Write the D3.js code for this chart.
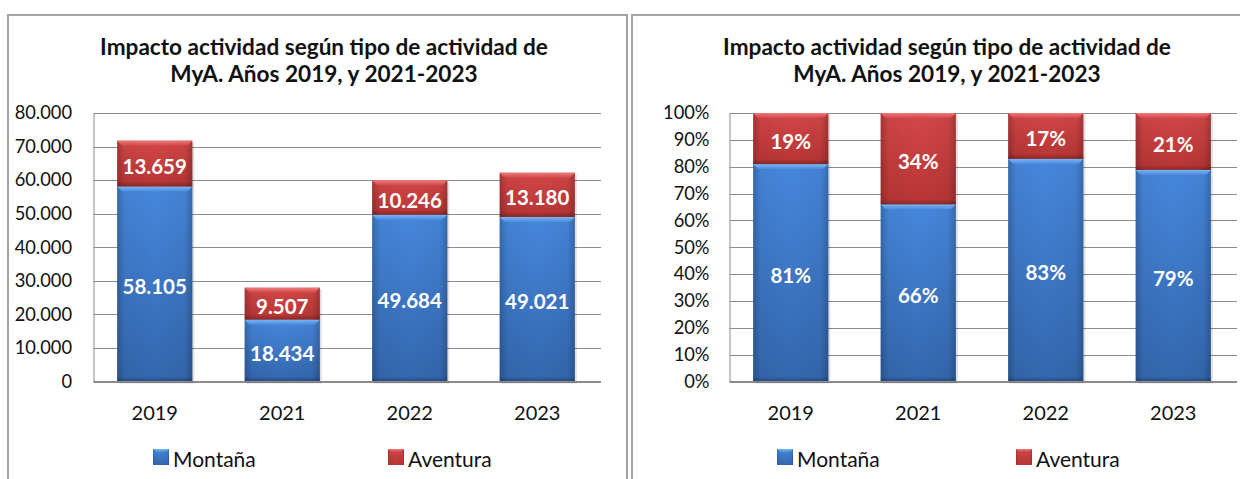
<!DOCTYPE html>
<html><head><meta charset="utf-8">
<script src="https://cdn.jsdelivr.net/npm/d3@7"></script>
<style>body{margin:0;background:#fff}svg{display:block}text{font-family:Lato,"Open Sans",sans-serif}</style>
</head><body>
<svg id="c" width="1240" height="479"></svg>
<script>
const years = ["2019","2021","2022","2023"];
const montana = [58105, 18434, 49684, 49021];
const aventura = [13659, 9507, 10246, 13180];
const seriesNames = ["Montaña","Aventura"];
const titleLines = ["Impacto actividad según tipo de actividad de","MyA. Años 2019, y 2021-2023"];
const absTicks = [0,10000,20000,30000,40000,50000,60000,70000,80000];
const pctTicks = [0,0.1,0.2,0.3,0.4,0.5,0.6,0.7,0.8,0.9,1];

const svg = d3.select("#c");
const loc = d3.formatLocale({decimal:",",thousands:".",grouping:[3],currency:["",""]});
const fmtAbs = loc.format(",.0f");
const fmtPct = d3.format(".0%");

const defs = svg.append("defs");
function grad(id, stops, x2, y2){
  const g = defs.append("linearGradient").attr("id",id).attr("x1",0).attr("y1",0).attr("x2",x2).attr("y2",y2);
  stops.forEach(s=>g.append("stop").attr("offset",s[0]).attr("stop-color",s[1]).attr("stop-opacity",s[2]===undefined?1:s[2]));
}
grad("gBlue",[[0,"#4687dc"],[1,"#3467ae"]],0,1);
grad("gRed",[[0,"#d44747"],[1,"#b73535"]],0,1);
grad("gBlueTop",[[0,"#7ab6f2"],[1,"#4a8ade"]],0,1);
grad("gRedTop",[[0,"#ee7a7a"],[1,"#d04848"]],0,1);
grad("gEdge",[[0,"#000",0.22],[0.1,"#000",0.04],[0.5,"#000",0],[0.9,"#000",0.04],[1,"#000",0.22]],1,0);
grad("gBottom",[[0,"#000",0],[1,"#000",0.25]],0,1);

const colors = {Montaña:{fill:"url(#gBlue)",top:"url(#gBlueTop)"}, Aventura:{fill:"url(#gRed)",top:"url(#gRedTop)"}};

function drawChart(cfg){
  const g = svg.append("g");
  g.append("rect").attr("x",cfg.frame[0]).attr("y",cfg.frame[1]).attr("width",cfg.frame[2]).attr("height",cfg.frame[3])
    .attr("fill","none").attr("stroke","#a3a3a3").attr("stroke-width",2);
  const t = g.append("text").attr("text-anchor","middle").attr("font-weight","bold").attr("font-size",22.6).attr("fill","#111");
  titleLines.forEach((l,i)=>t.append("tspan").attr("x",cfg.titleX).attr("y",55+i*27).text(l));

  const x = d3.scaleBand().domain(years).range([cfg.bandLeft,cfg.right]).paddingInner(0.41).paddingOuter(0.205);
  const y = d3.scaleLinear().domain(cfg.domain).range([381.5,113]);

  g.append("g").selectAll("line").data(cfg.ticks).join("line")
    .attr("x1",cfg.left).attr("x2",cfg.right).attr("y1",d=>Math.round(y(d))+0.5).attr("y2",d=>Math.round(y(d))+0.5)
    .attr("stroke","#8c8c8c").attr("stroke-width",1);
  const ya = g.append("g").attr("transform",`translate(${cfg.left},0)`)
    .call(d3.axisLeft(y).tickValues(cfg.ticks).tickFormat(cfg.fmt).tickSize(0).tickPadding(cfg.tickPad));
  ya.select(".domain").attr("stroke","#8c8c8c");
  ya.selectAll("text").attr("font-size",18.3).attr("fill","#111").attr("font-family","Lato");

  const rows = years.map((yr,i)=>{
    const tot = montana[i]+aventura[i];
    const v = cfg.pct ? [montana[i]/tot, aventura[i]/tot] : [montana[i], aventura[i]];
    return {yr, v};
  });
  const bars = g.append("g");
  rows.forEach(r=>{
    let base = 0;
    const bx = x(r.yr), bw = x.bandwidth();
    const total = r.v[0]+r.v[1];
    bars.append("rect").attr("x",bx+2).attr("y",y(total)+2).attr("width",bw).attr("height",y(0)-y(total)).attr("fill","#000").attr("opacity",0.12);
    r.v.forEach((val,k)=>{
      const name = seriesNames[k];
      const y0 = y(base), y1 = y(base+val);
      const h = y0-y1;
      const seg = bars.append("g");
      seg.append("rect").attr("x",bx).attr("y",y1).attr("width",bw).attr("height",h).attr("fill",colors[name].fill);
      seg.append("rect").attr("x",bx).attr("y",y1).attr("width",bw).attr("height",h).attr("fill","url(#gEdge)");
      seg.append("rect").attr("x",bx).attr("y",y0-5).attr("width",bw).attr("height",5).attr("fill","url(#gBottom)");
      seg.append("polygon").attr("points",[[bx,y1],[bx+bw,y1],[bx+bw-5,y1+5],[bx+5,y1+5]].map(p=>p.join(",")).join(" ")).attr("fill",colors[name].top);
      seg.append("text").attr("x",bx+bw/2).attr("y",(y0+y1)/2+3).attr("dy","0.35em").attr("text-anchor","middle")
        .attr("fill","#fff").attr("font-weight","bold").attr("font-size",20.5)
        .text(cfg.pct ? fmtPct(Math.round(val*100)/100) : fmtAbs(val));
      base += val;
    });
  });

  const xa = g.append("g").attr("transform","translate(0,381.5)")
    .call(d3.axisBottom(x).tickSize(0).tickPadding(24));
  xa.select(".domain").attr("stroke","#8c8c8c").attr("d",`M${cfg.left},0H${cfg.right}`);
  xa.selectAll("text").attr("font-size",20).attr("fill","#111").attr("font-family","Lato");

  const lg = g.append("g");
  seriesNames.forEach((n,k)=>{
    const lx = cfg.legendX[k];
    lg.append("rect").attr("x",lx).attr("y",449).attr("width",16).attr("height",16).attr("fill",colors[n].fill);
    lg.append("rect").attr("x",lx).attr("y",449).attr("width",16).attr("height",16).attr("fill","url(#gEdge)");
    lg.append("polygon").attr("points",[[lx,449],[lx+16,449],[lx+13,452],[lx+3,452]].map(p=>p.join(",")).join(" ")).attr("fill",colors[n].top);
    lg.append("text").attr("x",lx+20).attr("y",466.5).attr("font-size",21).attr("fill","#111").text(n);
  });
}

drawChart({frame:[8,15,619,480], titleX:324, left:93.5, bandLeft:91, right:601, domain:[0,80000], ticks:absTicks, fmt:fmtAbs, tickPad:21.5, pct:false, legendX:[153,388]});
drawChart({frame:[632,15,620,480], titleX:947, left:729.5, bandLeft:727, right:1237, domain:[0,1], ticks:pctTicks, fmt:d3.format(".0%"), tickPad:20, pct:true, legendX:[777,1016]});
</script>
</body></html>
